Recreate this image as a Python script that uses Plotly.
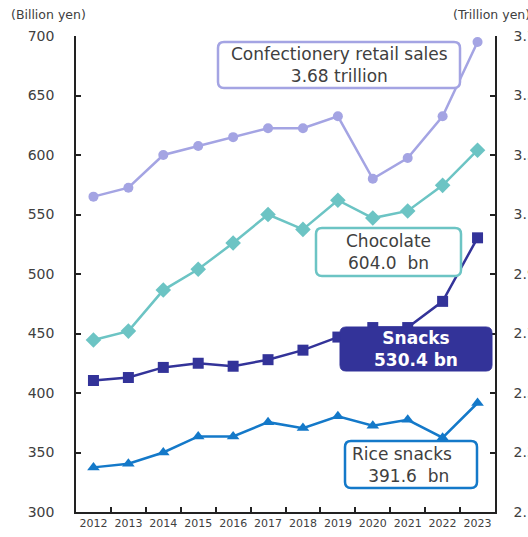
import plotly.graph_objects as go

# ---- data ----
years = ["2012", "2013", "2014", "2015", "2016", "2017",
         "2018", "2019", "2020", "2021", "2022", "2023"]
confectionery_tn = [3.16, 3.19, 3.30, 3.33, 3.36, 3.39, 3.39, 3.43, 3.22, 3.29, 3.43, 3.68]
chocolate_bn = [444.5, 452, 486.5, 504, 526, 550, 537.5, 562, 547, 553, 574.5, 604.0]
snacks_bn = [410.5, 413, 421.5, 425, 422.5, 428, 436, 447, 455, 455, 477, 530.4]
rice_snacks_bn = [337.5, 340.5, 350, 363.5, 363.5, 375.5, 370.5, 380.5, 372.5, 377.5, 362.5, 391.6]

left_ticks = [300, 350, 400, 450, 500, 550, 600, 650, 700]
right_ticks = [2.1, 2.3, 2.5, 2.7, 2.9, 3.1, 3.3, 3.5, 3.7]

C_CONF = "#a4a4e3"
C_CHOC = "#6cc4c4"
C_SNACK = "#333399"
C_RICE = "#1479c9"
TXT = "#404040"
FONT = "DejaVu Sans"

W, H = 528, 537
L, R, T, B = 76, 33, 36, 25
PW, PH = W - L - R, H - T - B


def px(x):
    return (x - L) / PW


def py(y):
    return (H - B - y) / PH


def rounded_box(x0, y0, x1, y1, r=6):
    """Rounded rectangle path in paper coordinates from pixel corners."""
    rx, ry = r / PW, r / PH
    a, b, c, d = px(x0), py(y1), px(x1), py(y0)  # left, bottom, right, top
    return (f"M {a + rx},{b} L {c - rx},{b} Q {c},{b} {c},{b + ry} "
            f"L {c},{d - ry} Q {c},{d} {c - rx},{d} L {a + rx},{d} "
            f"Q {a},{d} {a},{d - ry} L {a},{b + ry} Q {a},{b} {a + rx},{b} Z")


fig = go.Figure()

fig.add_trace(go.Scatter(
    x=years, y=confectionery_tn, yaxis="y2", mode="lines+markers",
    line=dict(color=C_CONF, width=2.5),
    marker=dict(symbol="circle", size=10, color=C_CONF),
    name="Confectionery retail sales"))
fig.add_trace(go.Scatter(
    x=years, y=chocolate_bn, mode="lines+markers",
    line=dict(color=C_CHOC, width=2.5),
    marker=dict(symbol="diamond", size=12, color=C_CHOC),
    name="Chocolate"))
fig.add_trace(go.Scatter(
    x=years, y=snacks_bn, mode="lines+markers",
    line=dict(color=C_SNACK, width=2.5),
    marker=dict(symbol="square", size=11, color=C_SNACK),
    name="Snacks"))
fig.add_trace(go.Scatter(
    x=years, y=rice_snacks_bn, mode="lines+markers",
    line=dict(color=C_RICE, width=2.5),
    marker=dict(symbol="triangle-up", size=11, color=C_RICE),
    name="Rice snacks"))

shapes = [
    dict(type="path", path=rounded_box(218, 42, 460, 88), xref="paper", yref="paper",
         line=dict(color=C_CONF, width=2.5), fillcolor="white", layer="above"),
    dict(type="path", path=rounded_box(316, 228, 461, 276), xref="paper", yref="paper",
         line=dict(color=C_CHOC, width=2.5), fillcolor="white", layer="above"),
    dict(type="path", path=rounded_box(340, 327, 492, 371), xref="paper", yref="paper",
         line=dict(color=C_SNACK, width=1), fillcolor=C_SNACK, layer="above"),
    dict(type="path", path=rounded_box(345, 441, 477, 488), xref="paper", yref="paper",
         line=dict(color=C_RICE, width=2.5), fillcolor="white", layer="above"),
]

annotations = [
    dict(text="Confectionery retail sales<br>3.68 trillion", x=px(339), y=py(65),
         font=dict(size=17, color=TXT, family=FONT)),
    dict(text="Chocolate<br>604.0\u00a0\u00a0bn", x=px(388), y=py(252),
         font=dict(size=17, color=TXT, family=FONT)),
    dict(text="<b>Snacks<br>530.4 bn</b>", x=px(416), y=py(349),
         font=dict(size=17, color="white", family=FONT)),
    dict(text="Rice snacks<br>\u00a0\u00a0\u00a0391.6\u00a0\u00a0bn", x=px(350), y=py(465),
         xanchor="left", align="left",
         font=dict(size=17, color=TXT, family=FONT)),
    dict(text="(Billion yen)", x=px(9), y=py(15), xanchor="left",
         font=dict(size=12.5, color=TXT, family=FONT)),
    dict(text="(Trillion yen)", x=px(451), y=py(15), xanchor="left",
         font=dict(size=12.5, color=TXT, family=FONT)),
]
for a in annotations:
    a.update(xref="paper", yref="paper", showarrow=False, yanchor=a.get("yanchor", "middle"))
    a.setdefault("xanchor", "center")
    a.setdefault("align", "center")

axis_common = dict(
    ticks="inside", ticklen=5, tickwidth=1.5, tickcolor="#222",
    showline=True, linecolor="#222", linewidth=1.5,
    showgrid=False, zeroline=False, automargin=False,
)

fig.update_layout(
    width=W, height=H,
    margin=dict(l=L, r=R, t=T, b=B, pad=0, autoexpand=False),
    paper_bgcolor="white", plot_bgcolor="white",
    showlegend=False,
    font=dict(family=FONT, color=TXT),
    xaxis=dict(
        type="category", range=[-0.5, 11.5], tickson="boundaries",
        tickangle=0,
        tickfont=dict(size=11, color=TXT, family=FONT),
        **axis_common,
    ),
    yaxis=dict(
        range=[300, 700], tickvals=left_ticks, ticklabelstandoff=17,
        tickfont=dict(size=14, color=TXT, family=FONT),
        **axis_common,
    ),
    yaxis2=dict(
        range=[2.1, 3.7], tickvals=right_ticks, tickformat=".1f",
        overlaying="y", side="right", ticklabelstandoff=14,
        tickfont=dict(size=14, color=TXT, family=FONT),
        **axis_common,
    ),
    shapes=shapes,
    annotations=annotations,
)

fig.write_html("out.html")
